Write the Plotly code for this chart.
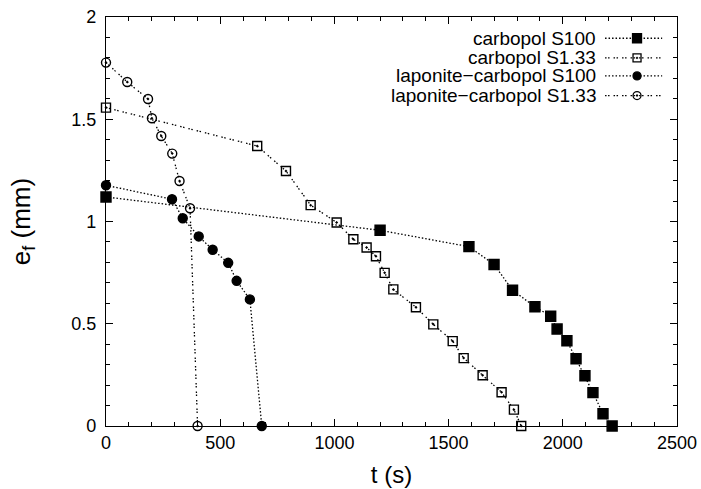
import plotly.graph_objects as go

# ---- data ----
t_carb_s100 = [0, 1200, 1589, 1699, 1780, 1878, 1947, 1975, 2018, 2058, 2097, 2132, 2176, 2216]
e_carb_s100 = [1.12, 0.957, 0.877, 0.790, 0.664, 0.583, 0.537, 0.474, 0.417, 0.329, 0.246, 0.163, 0.060, 0.0]

t_carb_s133 = [0, 662, 788, 896, 1010, 1083, 1141, 1182, 1220, 1258, 1357, 1433, 1518, 1566, 1649, 1732, 1786, 1818]
e_carb_s133 = [1.557, 1.369, 1.247, 1.080, 0.995, 0.913, 0.873, 0.830, 0.749, 0.668, 0.581, 0.497, 0.415, 0.332, 0.248, 0.165, 0.080, 0.0]

t_lap_s100 = [0, 289, 336, 406, 467, 535, 572, 630, 682]
e_lap_s100 = [1.177, 1.109, 1.016, 0.927, 0.862, 0.798, 0.710, 0.619, 0.0]

t_lap_s133 = [0, 93, 184, 201, 242, 290, 322, 368, 401]
e_lap_s133 = [1.777, 1.682, 1.599, 1.505, 1.418, 1.332, 1.198, 1.065, 0.0]

names = ["carbopol S100", "carbopol S1.33", "laponite\u2212carbopol S100", "laponite\u2212carbopol S1.33"]
x_ticks = [0, 500, 1000, 1500, 2000, 2500]
y_ticks = [0, 0.5, 1, 1.5, 2]

FONT = "Liberation Sans, Arial, Helvetica, sans-serif"
DOT = "1.5px,2px"
DOT2 = "1.5px,1.5px,1.5px,4px"

series = [
    (t_carb_s100, e_carb_s100, "square", 10, DOT),
    (t_carb_s133, e_carb_s133, "square-open-dot", 9, DOT2),
    (t_lap_s100, e_lap_s100, "circle", 9, DOT),
    (t_lap_s133, e_lap_s133, "circle-open-dot", 9, DOT2),
]

fig = go.Figure()
for (tx, ey, sym, sz, dash), nm in zip(series, names):
    fig.add_trace(go.Scatter(
        x=tx, y=ey, mode="lines+markers", name=nm, showlegend=False,
        line=dict(color="black", width=1.3, dash=dash),
        marker=dict(symbol=sym, size=sz, color="black", line=dict(color="black", width=1.4)),
        cliponaxis=False,
    ))

# ---- custom legend (text left, sample right) ----
rows = [0.948, 0.900, 0.856, 0.808]
for (tx, ey, sym, sz, dash), nm, ry in zip(series, names, rows):
    fig.add_trace(go.Scatter(
        x=[0.874, 0.974], y=[ry, ry], mode="lines", xaxis="x2", yaxis="y2",
        showlegend=False, hoverinfo="skip",
        line=dict(color="black", width=1.3, dash=dash),
    ))
    fig.add_trace(go.Scatter(
        x=[0.930], y=[ry], mode="markers", xaxis="x2", yaxis="y2",
        showlegend=False, hoverinfo="skip",
        marker=dict(symbol=sym, size=sz - 1, color="black", line=dict(color="black", width=1.3)),
    ))
    fig.add_annotation(x=0.861, y=ry, xref="paper", yref="paper", text=nm,
                       showarrow=False, xanchor="right", yanchor="middle",
                       font=dict(family=FONT, size=19, color="black"))

axis_common = dict(
    showline=True, linecolor="black", linewidth=1.3, mirror="allticks",
    ticks="inside", ticklen=7, tickwidth=1, tickcolor="black",
    showgrid=False, zeroline=False, automargin=False,
    tickfont=dict(family=FONT, size=18, color="black"),
)

fig.update_layout(
    template="none",
    width=701, height=489,
    margin=dict(l=106, r=24, t=17, b=63),
    paper_bgcolor="white", plot_bgcolor="white",
    font=dict(family=FONT, color="black"),
    xaxis=dict(range=[0, 2500], tickvals=x_ticks, ticktext=[str(v) for v in x_ticks],
               minor=dict(ticks="inside", dtick=100, ticklen=4, tickcolor="black"),
               title=dict(text="t (s)", font=dict(family=FONT, size=24), standoff=14),
               **axis_common),
    yaxis=dict(range=[0, 2], tickvals=y_ticks, ticktext=["0", "0.5", "1", "1.5", "2"],
               minor=dict(ticks="inside", dtick=0.1, ticklen=4, tickcolor="black"),
               ticklabelstandoff=5,
               title=dict(text="e<sub>f</sub> (mm)", font=dict(family=FONT, size=26), standoff=33),
               **axis_common),
    xaxis2=dict(overlaying="x", range=[0, 1], visible=False),
    yaxis2=dict(overlaying="y", range=[0, 1], visible=False),
    showlegend=False,
)

# remove the page's default body margin so the figure sits at the window origin
fig.write_html("out.html", config={"displayModeBar": False},
               post_script="document.body.style.margin='0';")
